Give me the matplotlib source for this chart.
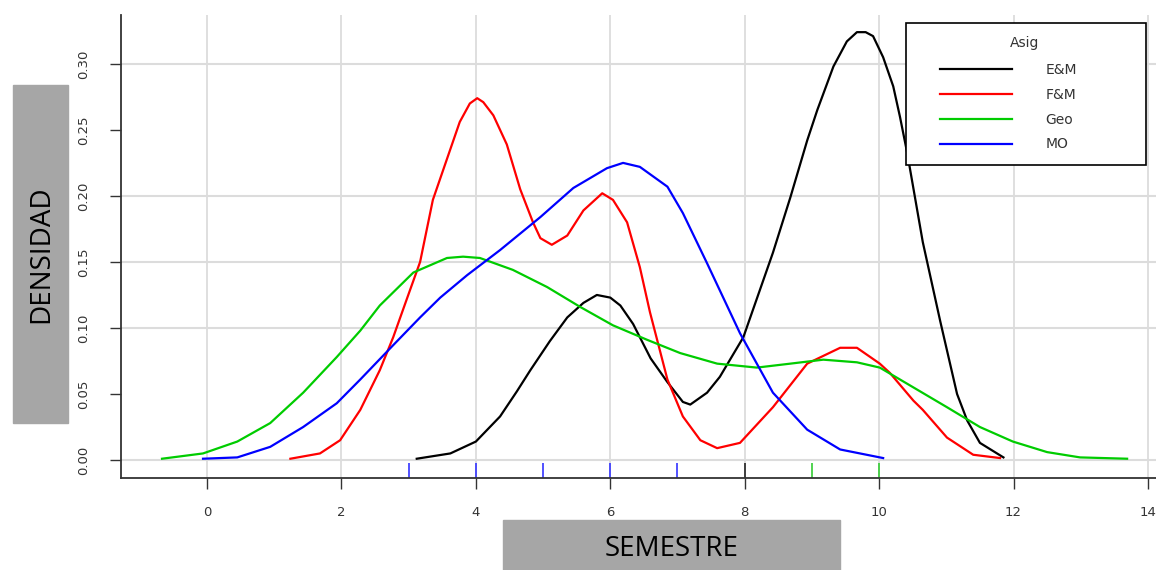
import numpy as np
import matplotlib.pyplot as plt
from matplotlib.patches import Rectangle

# densidades (semestre, densidad)
em_x = [3.12, 3.62, 4.0, 4.36, 4.61, 4.81, 5.1, 5.36, 5.6, 5.8, 6.0, 6.15, 6.34, 6.6, 6.85, 7.08,
        7.19, 7.44, 7.63, 7.98, 8.42, 8.68, 8.93, 9.08, 9.32, 9.52, 9.67, 9.8, 9.91, 10.06, 10.21,
        10.31, 10.42, 10.65, 10.91, 11.16, 11.31, 11.5, 11.85]
em_y = [0.001, 0.005, 0.014, 0.033, 0.052, 0.068, 0.090, 0.108, 0.119, 0.125, 0.123, 0.117, 0.103,
        0.077, 0.059, 0.044, 0.042, 0.051, 0.063, 0.093, 0.157, 0.199, 0.242, 0.265, 0.298, 0.317,
        0.324, 0.324, 0.321, 0.305, 0.283, 0.260, 0.232, 0.165, 0.105, 0.050, 0.030, 0.013, 0.002]

fm_x = [1.24, 1.68, 1.98, 2.28, 2.57, 2.77, 2.98, 3.17, 3.36, 3.57, 3.76, 3.91, 4.02, 4.11, 4.26,
        4.46, 4.66, 4.85, 4.96, 5.13, 5.36, 5.6, 5.88, 6.04, 6.25, 6.44, 6.59, 6.85, 7.08, 7.34,
        7.59, 7.93, 8.42, 8.93, 9.42, 9.67, 10.01, 10.16, 10.51, 10.65, 11.01, 11.4, 11.8]
fm_y = [0.001, 0.005, 0.015, 0.038, 0.068, 0.093, 0.123, 0.150, 0.197, 0.228, 0.256, 0.270, 0.274,
        0.271, 0.261, 0.239, 0.205, 0.180, 0.168, 0.163, 0.170, 0.189, 0.202, 0.197, 0.180, 0.146,
        0.112, 0.061, 0.033, 0.015, 0.009, 0.013, 0.040, 0.073, 0.085, 0.085, 0.073, 0.066, 0.045,
        0.038, 0.017, 0.004, 0.0015]

geo_x = [-0.67, -0.06, 0.45, 0.94, 1.43, 1.93, 2.28, 2.57, 3.07, 3.57, 3.81, 4.06, 4.55, 5.06, 5.55,
         6.04, 6.55, 7.04, 7.59, 8.18, 8.68, 9.17, 9.67, 10.01, 10.51, 11.01, 11.5, 11.99, 12.5,
         12.99, 13.69]
geo_y = [0.001, 0.005, 0.014, 0.028, 0.051, 0.078, 0.098, 0.117, 0.142, 0.153, 0.154, 0.153, 0.144,
         0.131, 0.116, 0.102, 0.091, 0.081, 0.073, 0.070, 0.073, 0.076, 0.074, 0.070, 0.055, 0.040,
         0.025, 0.014, 0.006, 0.002, 0.001]

mo_x = [-0.06, 0.45, 0.94, 1.43, 1.93, 2.28, 2.77, 3.17, 3.47, 3.87, 4.36, 4.96, 5.45, 5.95, 6.19,
        6.44, 6.85, 7.08, 7.44, 7.93, 8.42, 8.93, 9.42, 10.06]
mo_y = [0.001, 0.002, 0.010, 0.025, 0.043, 0.061, 0.087, 0.108, 0.123, 0.140, 0.159, 0.184, 0.206,
        0.221, 0.225, 0.222, 0.207, 0.187, 0.149, 0.096, 0.051, 0.023, 0.008, 0.0015]

# marcas de rug (datos observados)
rug_x = [3, 4, 5, 6, 7, 8, 9, 10]
rug_col = ['#3333ff', '#3333ff', '#3333ff', '#3333ff', '#3333ff', '#222222', '#33cc33', '#33cc33']

asignaturas = ['E&M', 'F&M', 'Geo', 'MO']
colores = ['black', 'red', '#00cc00', 'blue']
xticks = [0, 2, 4, 6, 8, 10, 12, 14]
yticks = [0.00, 0.05, 0.10, 0.15, 0.20, 0.25, 0.30]
ygrid = [0.00, 0.10, 0.15, 0.20, 0.30]

fig = plt.figure(figsize=(11.56, 5.70), dpi=100)
ax = fig.add_axes([0.1047, 0.1614, 0.8953, 0.8123])

for g in xticks:
    ax.axvline(g, color='#dcdcdc', lw=1.3, zorder=0)
for g in ygrid:
    ax.axhline(g, color='#dcdcdc', lw=1.5, zorder=0)

series = [(em_x, em_y), (fm_x, fm_y), (geo_x, geo_y), (mo_x, mo_y)]
for (xs, ys), lab, c in zip(series, asignaturas, colores):
    ax.plot(xs, ys, color=c, lw=1.6, label=lab)

ax.vlines(rug_x, -0.0136, -0.002, colors=rug_col, lw=1.2)

ax.set_xlim(-1.28, 14.12)
ax.set_ylim(-0.0136, 0.337)
ax.set_xticks(xticks)
ax.set_yticks(yticks)
ax.set_xticklabels([str(t) for t in xticks])
ax.set_yticklabels(['%.2f' % t for t in yticks], rotation=90, va='center')
ax.tick_params(axis='both', length=8, width=1, color='#333333', labelsize=9.5,
               labelcolor='#333333', pad=12)
ax.tick_params(axis='y', pad=14)
for s in ['top', 'right']:
    ax.spines[s].set_visible(False)
for s in ['left', 'bottom']:
    ax.spines[s].set_color('#333333')
    ax.spines[s].set_linewidth(1.3)

# leyenda: marco dibujado aparte para igualar su tamaño
marco = Rectangle((906 / 1156, 1 - 165 / 570), 240 / 1156, 142 / 570, transform=fig.transFigure,
                  facecolor='white', edgecolor='black', lw=1.2, zorder=4, clip_on=False)
ax.add_artist(marco)
leg = ax.legend(loc='upper left', bbox_to_anchor=(940 / 1156, 1 - 63 / 570),
                bbox_transform=fig.transFigure, frameon=False, fontsize=10,
                handlelength=5.2, handletextpad=2.4, labelspacing=0.78,
                borderpad=0, borderaxespad=0)
leg.set_zorder(5)
for t in leg.get_texts():
    t.set_color('#333333')
fig.text(1025 / 1156, 1 - 43 / 570, 'Asig', ha='center', va='center', fontsize=10,
         color='#333333', zorder=6)

# cajas grises de los titulos de ejes
fig.patches.append(Rectangle((13 / 1156, 1 - 423 / 570), 55 / 1156, 338 / 570,
                             transform=fig.transFigure, color='#a6a6a6', zorder=0))
fig.patches.append(Rectangle((503 / 1156, 0), 337 / 1156, 50 / 570,
                             transform=fig.transFigure, color='#a6a6a6', zorder=0))
fig.text(41 / 1156, 1 - 254 / 570, 'DENSIDAD', rotation=90, ha='center', va='center',
         fontsize=20, family=['Open Sans', 'DejaVu Sans'], color='black')
fig.text(672 / 1156, 1 - 549 / 570, 'SEMESTRE', ha='center', va='center',
         fontsize=20, family=['Open Sans', 'DejaVu Sans'], color='black')

fig.savefig('out.png', dpi=100)
